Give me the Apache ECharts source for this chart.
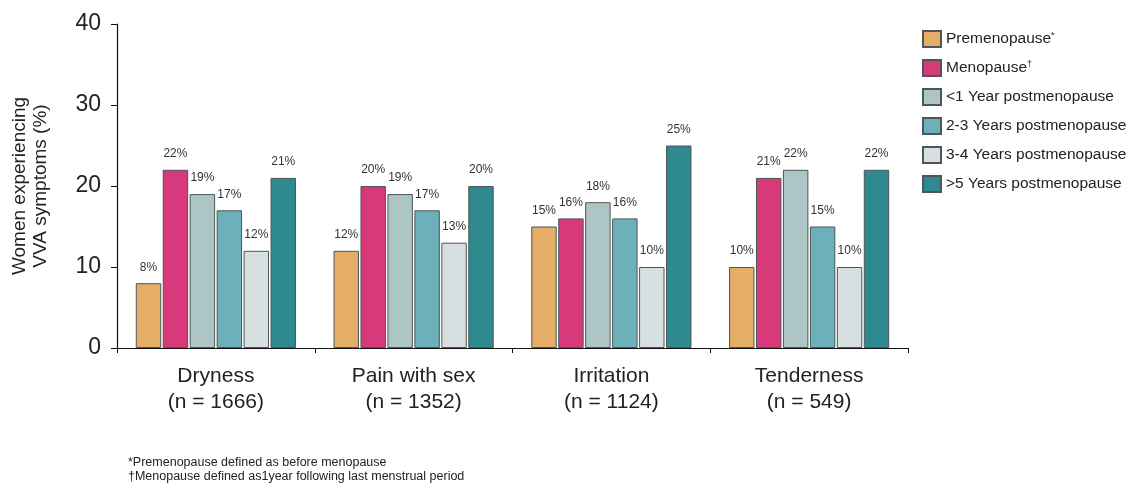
<!DOCTYPE html>
<html>
<head>
<meta charset="utf-8">
<script src="https://cdn.jsdelivr.net/npm/echarts@6/dist/echarts.min.js"></script>
<style>
  html, body { margin: 0; padding: 0; background: #fff; }
  #chart { width: 1136px; height: 485px; }
</style>
</head>
<body>
<div id="chart"></div>
<script>
// Symptom categories (with sample sizes)
const categories = ['Dryness\n(n = 1666)', 'Pain with sex\n(n = 1352)', 'Irritation\n(n = 1124)', 'Tenderness\n(n = 549)'];

// Share of women reporting each symptom, % by menopausal stage
const premenopause   = [8, 12, 15, 10];
const menopause      = [22, 20, 16, 21];
const lessThan1Year  = [19, 19, 18, 22];
const years2to3      = [17, 17, 16, 15];
const years3to4      = [12, 13, 10, 10];
const moreThan5Years = [21, 20, 25, 22];

const yTicks = [0, 10, 20, 30, 40];

const stages = [
  { name: 'Premenopause*',            data: premenopause,   color: '#E4AE68' },
  { name: 'Menopause\u2020',          data: menopause,      color: '#D8397A' },
  { name: '<1 Year postmenopause',    data: lessThan1Year,  color: '#AEC5C6' },
  { name: '2-3 Years postmenopause',  data: years2to3,      color: '#6CB0B9' },
  { name: '3-4 Years postmenopause',  data: years3to4,      color: '#D7E0E0' },
  { name: '>5 Years postmenopause',   data: moreThan5Years, color: '#2E8A8E' }
];

const FONT = '"Liberation Sans", Arial, Helvetica, sans-serif';

const chart = echarts.init(document.getElementById('chart'));

chart.setOption({
  animation: false,
  textStyle: { fontFamily: FONT },
  grid: { left: 117, right: 228, top: 24, bottom: 137 },
  legend: {
    orient: 'vertical',
    left: 917,
    top: 25,
    itemWidth: 18,
    itemHeight: 16,
    itemGap: 11,
    icon: 'rect',
    selectedMode: false,
    textStyle: { fontSize: 15.5, color: '#222', fontFamily: FONT,
      rich: { sup: { fontSize: 9, verticalAlign: 'top', color: '#222', padding: [0, 0, 7, 0] } } },
    formatter: function (name) {
      if (name.endsWith('*')) return name.slice(0, -1) + '{sup|*}';
      if (name.endsWith('\u2020')) return name.slice(0, -1) + '{sup|\u2020}';
      return name;
    },
    data: stages.map(s => s.name)
  },
  xAxis: {
    type: 'category',
    data: categories,
    axisLine: { lineStyle: { color: '#111', width: 1.2 } },
    axisTick: { show: true, inside: false, length: 5, lineStyle: { color: '#111' } },
    axisLabel: { fontSize: 21, lineHeight: 26, color: '#222', margin: 15, fontFamily: FONT }
  },
  yAxis: {
    type: 'value',
    min: yTicks[0],
    max: yTicks[yTicks.length - 1],
    interval: 10,
    name: 'Women experiencing\nVVA symptoms (%)',
    nameLocation: 'middle',
    nameRotate: 90,
    nameGap: 66,
    nameTextStyle: { fontSize: 19, lineHeight: 21, color: '#222', fontFamily: FONT },
    axisLine: { show: true, lineStyle: { color: '#111', width: 1.2 } },
    axisTick: { show: true, length: 6, lineStyle: { color: '#111' } },
    axisLabel: { fontSize: 23, color: '#222', margin: 16, fontFamily: FONT },
    splitLine: { show: false }
  },
  series: stages.map(s => ({
    name: s.name,
    type: 'bar',
    data: s.data,
    barGap: '6%',
    barCategoryGap: '19%',
    itemStyle: { color: s.color, borderColor: '#4d5556', borderWidth: 1 },
    label: {
      show: true,
      position: 'top',
      distance: 10,
      formatter: '{c}%',
      fontSize: 12,
      color: '#333',
      fontFamily: FONT
    }
  })),
  graphic: [
    {
      type: 'text',
      left: 128,
      top: 456,
      style: {
        text: '*Premenopause defined as before menopause',
        fontSize: 12.5, fill: '#222', fontFamily: FONT
      }
    },
    {
      type: 'text',
      left: 128,
      top: 470,
      style: {
        text: '\u2020Menopause defined as1year following last menstrual period',
        fontSize: 12.5, fill: '#222', fontFamily: FONT
      }
    }
  ]
});
</script>
</body>
</html>
